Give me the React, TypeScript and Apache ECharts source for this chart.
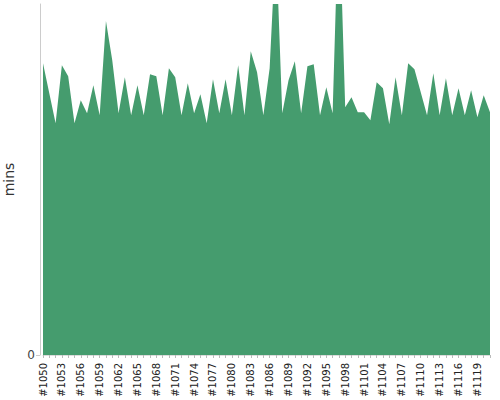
import React, { useEffect, useRef } from "react";
import * as echarts from "echarts";

const categories: string[] = Array.from({ length: 72 }, (_, i) => "#" + (1050 + i));

const durationMins: number[] = [
  29.1, 26.1, 23.1, 28.9, 27.8, 23.1, 25.4, 24.1, 26.9, 23.9,
  33.3, 29.4, 24.1, 27.7, 23.9, 26.9, 23.9, 28.0, 27.8, 23.9,
  28.6, 27.7, 23.9, 27.1, 24.1, 26.0, 23.1, 27.5, 24.1, 27.5,
  23.9, 28.9, 23.9, 30.3, 28.2, 23.9, 28.6, 41.4, 24.1, 27.4,
  29.3, 24.1, 28.8, 29.0, 23.9, 26.7, 24.1, 45.4, 24.7, 25.7,
  24.2, 24.2, 23.4, 27.2, 26.6, 23.0, 27.7, 23.9, 29.1, 28.5,
  26.2, 23.9, 28.1, 23.9, 27.6, 23.9, 26.6, 23.9, 26.4, 23.7,
  25.9, 24.2,
];

const yMax = 35;

export default function App() {
  const ref = useRef<HTMLDivElement>(null);
  useEffect(() => {
    if (!ref.current) return;
    const chart = echarts.init(ref.current, null, { renderer: "svg" });
    chart.setOption({
      animation: false,
      textStyle: { fontFamily: "DejaVu Sans" },
      grid: {
        left: 43,
        right: 10,
        top: 4,
        bottom: 45,
        containLabel: false,
        outerBoundsMode: "none",
      },
      xAxis: {
        type: "category",
        data: categories,
        boundaryGap: false,
        axisLine: { show: true, lineStyle: { color: "#ddd" } },
        axisTick: { show: true, interval: 0, length: 3, lineStyle: { color: "#bbb" } },
        axisLabel: {
          interval: 2,
          rotate: 90,
          fontSize: 10,
          color: "#222",
          margin: 8,
          fontFamily: "DejaVu Sans",
        },
      },
      yAxis: {
        type: "value",
        min: 0,
        max: yMax,
        interval: yMax,
        offset: 3,
        name: "mins",
        nameLocation: "middle",
        nameGap: 21,
        nameTextStyle: { fontSize: 14, color: "#333", fontFamily: "DejaVu Sans" },
        axisLine: { show: true, lineStyle: { color: "#ccc" } },
        axisTick: { show: true, length: 4, lineStyle: { color: "#ccc" } },
        axisLabel: {
          showMaxLabel: false,
          fontSize: 12,
          color: "#444",
          margin: 5,
          fontFamily: "DejaVu Sans",
        },
        splitLine: { show: false },
      },
      series: [
        {
          type: "line",
          data: durationMins,
          symbol: "none",
          clip: true,
          lineStyle: { width: 0 },
          itemStyle: { color: "#459c6e" },
          areaStyle: { color: "#459c6e", opacity: 1 },
        },
      ],
    });
    return () => chart.dispose();
  }, []);
  return (
    <div
      ref={ref}
      style={{ position: "absolute", left: 0, top: 0, width: 500, height: 400 }}
    />
  );
}
